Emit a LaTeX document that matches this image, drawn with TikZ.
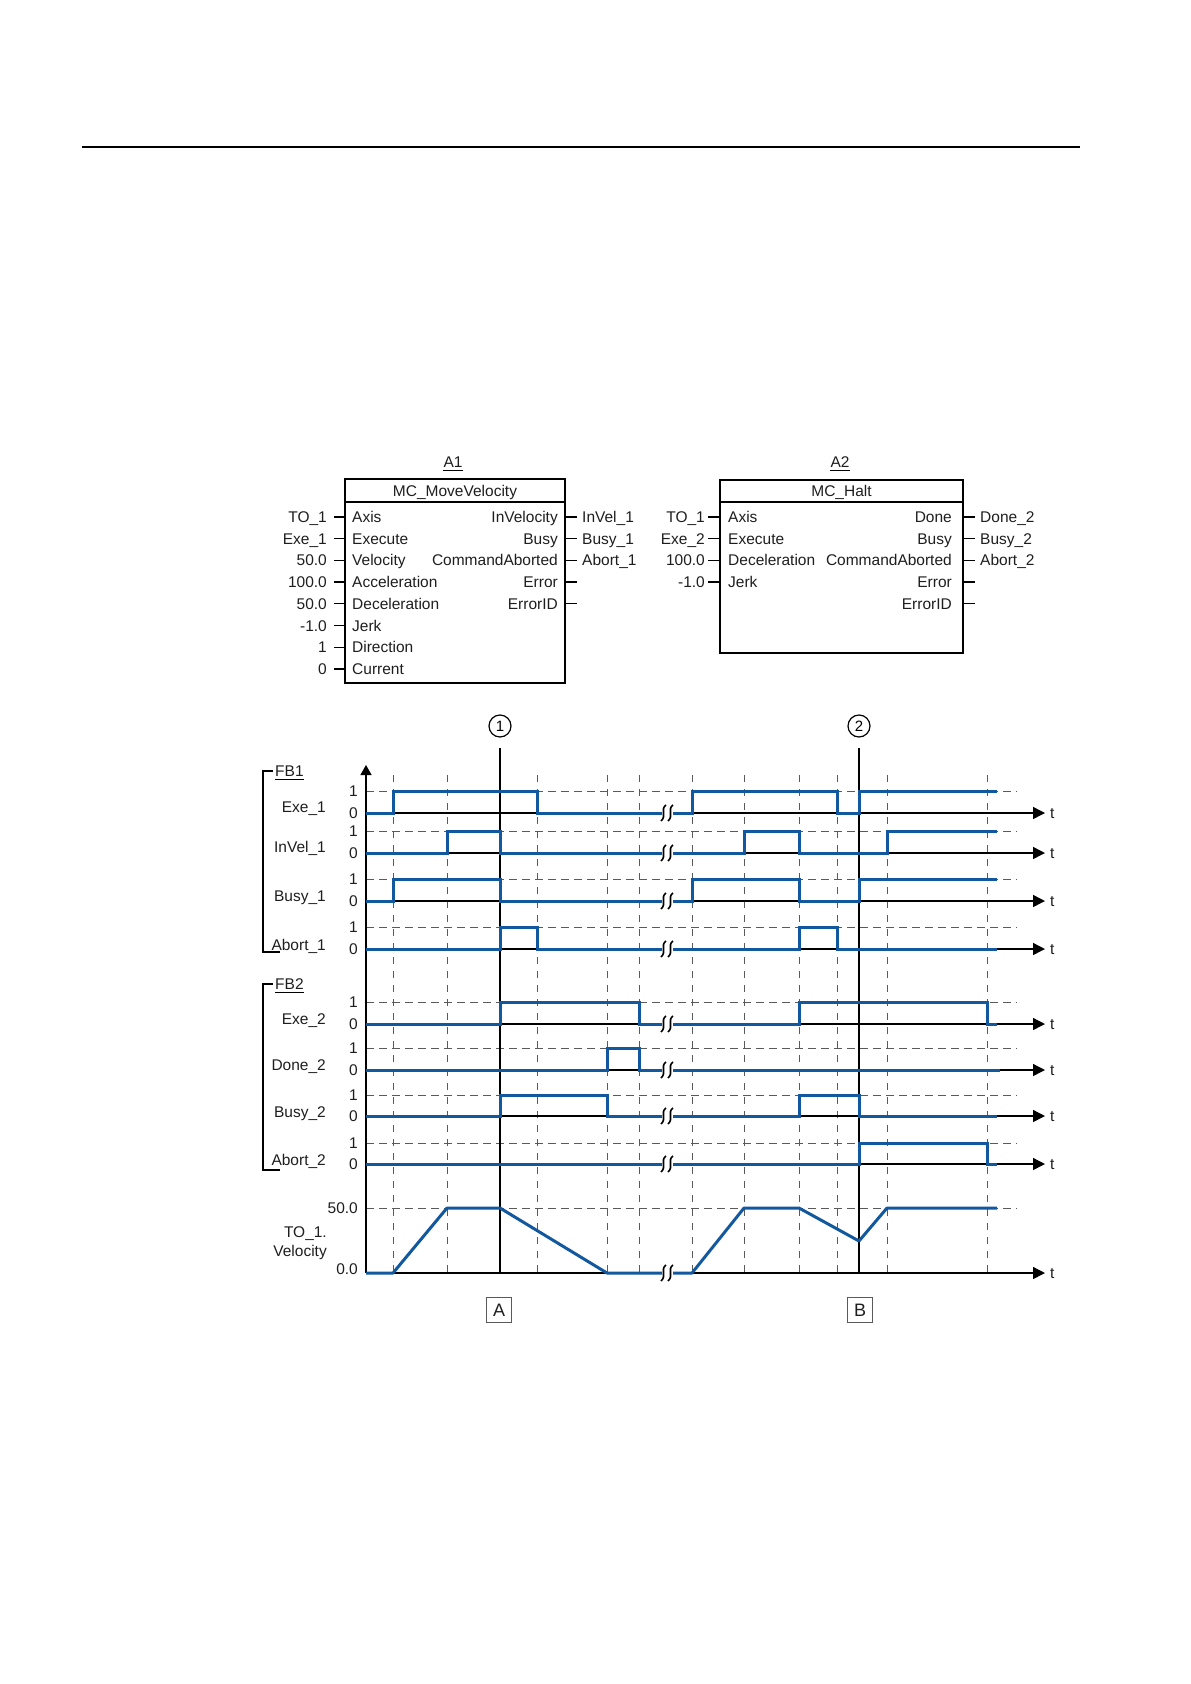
\documentclass[tikz,border=0pt]{standalone}
\usepackage{fontspec}
\setmainfont{Liberation Sans}
\usetikzlibrary{arrows.meta}
\definecolor{sigblue}{RGB}{18,88,158}
\definecolor{txt}{RGB}{30,30,30}
\definecolor{dgray}{RGB}{90,90,90}
\begin{document}
\begin{tikzpicture}[x=1pt,y=-1pt,
  lbl/.style={inner sep=0pt, text height=11pt, text depth=0pt, font=\fontsize{15.5}{18}\selectfont, text=txt},
  lbE/.style={lbl, anchor=east},
  lbW/.style={lbl, anchor=west},
  lbC/.style={lbl, anchor=center},
  fbbox/.style={draw=black, line width=2.4pt},
  pinl/.style={line width=1.3pt},
  sig/.style={draw=sigblue, line width=3pt, line join=miter},
  axisl/.style={line width=1.4pt, -{Triangle[length=12pt,width=12pt]}},
  hdash/.style={dgray, line width=1pt, dash pattern=on 8pt off 5pt},
  vdash/.style={dgray, line width=0.9pt, dash pattern=on 7pt off 7pt},
  markl/.style={black, line width=1.4pt},
  numc/.style={circle, draw=black, line width=1.2pt, minimum size=22pt, inner sep=0pt, font=\fontsize{15}{17}\selectfont},
  letbox/.style={draw=dgray, line width=0.9pt, minimum width=25pt, minimum height=25pt, inner sep=0pt, font=\fontsize{18}{20}\selectfont, text=txt},
  brkline/.style={black, line width=1.6pt}
]
\useasboundingbox (0,0) rectangle (1191,1684);

% top rule
\draw[line width=1.3pt] (82,147) -- (1080,147);

% ---------- Block A1 ----------
\node[lbC] (A1) at (453,462) {A1};
\draw[line width=1.1pt] ([yshift=-2.5pt]A1.south west) -- ([yshift=-2.5pt]A1.south east);
\draw[fbbox] (345,479) rectangle (565,683);
\draw[line width=1.2pt] (345,502) -- (565,502);
\node[lbC] (t1) at (455,490.5) {MC\_MoveVelocity};
\foreach \l/\p [count=\i] in {TO\_1/Axis, Exe\_1/Execute, 50.0/Velocity, 100.0/Acceleration, 50.0/Deceleration, -1.0/Jerk, 1/Direction, 0/Current} {
  \pgfmathsetmacro\yy{517+(\i-1)*21.7}
  \node[lbE] (aIn\i) at (327,\yy) {\l};
  \node[lbW] (aP\i) at (352,\yy) {\p};
  \draw[pinl] (334,\yy) -- (345,\yy);
}
\foreach \p [count=\i] in {InVelocity, Busy, CommandAborted, Error, ErrorID} {
  \pgfmathsetmacro\yy{517+(\i-1)*21.7}
  \node[lbE] (aQ\i) at (558,\yy) {\p};
  \draw[pinl] (565,\yy) -- (577,\yy);
}
\foreach \o [count=\i] in {InVel\_1, Busy\_1, Abort\_1} {
  \pgfmathsetmacro\yy{517+(\i-1)*21.7}
  \node[lbW] (aOut\i) at (582,\yy) {\o};
}

% ---------- Block A2 ----------
\node[lbC] (A2) at (840,462) {A2};
\draw[line width=1.1pt] ([yshift=-2.5pt]A2.south west) -- ([yshift=-2.5pt]A2.south east);
\draw[fbbox] (720,480) rectangle (963,653);
\draw[line width=1.2pt] (720,502) -- (963,502);
\node[lbC] (t2) at (841.5,490.5) {MC\_Halt};
\foreach \l/\p [count=\i] in {TO\_1/Axis, Exe\_2/Execute, 100.0/Deceleration, -1.0/Jerk} {
  \pgfmathsetmacro\yy{517+(\i-1)*21.7}
  \node[lbE] (bIn\i) at (705,\yy) {\l};
  \node[lbW] (bP\i) at (728,\yy) {\p};
  \draw[pinl] (708,\yy) -- (720,\yy);
}
\foreach \p [count=\i] in {Done, Busy, CommandAborted, Error, ErrorID} {
  \pgfmathsetmacro\yy{517+(\i-1)*21.7}
  \node[lbE] (bQ\i) at (952,\yy) {\p};
  \draw[pinl] (963,\yy) -- (975,\yy);
}
\foreach \o [count=\i] in {Done\_2, Busy\_2, Abort\_2} {
  \pgfmathsetmacro\yy{517+(\i-1)*21.7}
  \node[lbW] (bOut\i) at (980,\yy) {\o};
}

% ---------- Timing diagram ----------
% dashed vertical grid
\foreach \x in {393,447,537,607,639,692,744,799,837,887,987}
  \draw[vdash] (\x,775) -- (\x,1273);

% rows: high / low / label / label y
\foreach \h/\lo/\n/\ly [count=\i] in {791/813/Exe\_1/807, 831/853/InVel\_1/847, 879/901/Busy\_1/896, 927/949/Abort\_1/945, 1002/1024/Exe\_2/1019, 1048/1070/Done\_2/1065, 1095/1116/Busy\_2/1112, 1143/1164/Abort\_2/1160} {
  \draw[hdash] (366,\h) -- (1017,\h);
  \draw[axisl] (366,\lo) -- (1045,\lo);
  \node[lbW] (tt\i) at (1050,\lo) {t};
  \node[lbE] (one\i) at (358,\h) {1};
  \node[lbE] (zero\i) at (358,\lo) {0};
  \node[lbE] (sn\i) at (326,\ly) {\n};
}

% velocity row
\draw[hdash] (366,1208) -- (1017,1208);
\draw[axisl] (366,1273) -- (1045,1273);
\node[lbW] (tt9) at (1050,1273) {t};
\node[lbE] (v50) at (358,1208) {50.0};
\node[lbE] (v00) at (358,1269) {0.0};
\node[lbE] (vn1) at (327,1232) {TO\_1.};
\node[lbE] (vn2) at (327,1251) {Velocity};

% y axis
\draw[line width=1.4pt, -{Triangle[length=10pt,width=11pt]}] (366,1273) -- (366,765);

% markers 1 and 2
\node[numc] (m1) at (500,726) {1};
\node[numc] (m2) at (859,726) {2};
\coordinate (m1b) at (500,1273);
\coordinate (m2b) at (859,1273);
\draw[markl] ([yshift=-10pt]m1.south) -- (m1b);
\draw[markl] ([yshift=-10pt]m2.south) -- (m2b);

% brackets FB1 / FB2
\node[lbW] (fb1) at (275,771) {FB1};
\draw[line width=1.1pt] ([yshift=-2.5pt]fb1.south west) -- ([yshift=-2.5pt]fb1.south east);
\draw[line width=1.2pt] (273,771) -- (263,771) -- (263,952) -- (280,952);
\node[lbW] (fb2) at (275,984) {FB2};
\draw[line width=1.1pt] ([yshift=-2.5pt]fb2.south west) -- ([yshift=-2.5pt]fb2.south east);
\draw[line width=1.2pt] (273,984) -- (263,984) -- (263,1170) -- (280,1170);

% signals
\draw[sig] (366,813) -- (393,813) -- (393,791) -- (537,791) -- (537,813) -- (692,813) -- (692,791) -- (837,791) -- (837,813) -- (859,813) -- (859,791) -- (997,791);
\draw[sig] (366,853) -- (447,853) -- (447,831) -- (500,831) -- (500,853) -- (744,853) -- (744,831) -- (799,831) -- (799,853) -- (887,853) -- (887,831) -- (997,831);
\draw[sig] (366,901) -- (393,901) -- (393,879) -- (500,879) -- (500,901) -- (692,901) -- (692,879) -- (799,879) -- (799,901) -- (859,901) -- (859,879) -- (997,879);
\draw[sig] (366,949) -- (500,949) -- (500,927) -- (537,927) -- (537,949) -- (799,949) -- (799,927) -- (837,927) -- (837,949) -- (997,949);
\draw[sig] (366,1024) -- (500,1024) -- (500,1002) -- (639,1002) -- (639,1024) -- (799,1024) -- (799,1002) -- (987,1002) -- (987,1024) -- (997,1024);
\draw[sig] (366,1070) -- (607,1070) -- (607,1048) -- (639,1048) -- (639,1070) -- (1000,1070);
\draw[sig] (366,1116) -- (500,1116) -- (500,1095) -- (607,1095) -- (607,1116) -- (799,1116) -- (799,1095) -- (859,1095) -- (859,1116) -- (997,1116);
\draw[sig] (366,1164) -- (859,1164) -- (859,1143) -- (987,1143) -- (987,1164) -- (997,1164);
\draw[sig, line join=round] (366,1273) -- (393,1273) -- (447,1208) -- (500,1208) -- (607,1273) -- (692,1273) -- (744,1208) -- (799,1208) -- (859,1241) -- (887,1208) -- (997,1208);

% break marks
\foreach \y in {813,853,901,949,1024,1070,1116,1164,1273} {
  \fill[white] (662,\y-4) rectangle (673,\y+4);
  \draw[brkline] (666,\y-8) .. controls (660,\y-4) and (667,\y+3) .. (661,\y+8);
  \draw[brkline] (673,\y-8) .. controls (667,\y-4) and (674,\y+3) .. (668,\y+8);
}

% boxes A and B
\node[letbox] (bxA) at (499,1310) {A};
\node[letbox] (bxB) at (860,1310) {B};
\end{tikzpicture}
\end{document}
